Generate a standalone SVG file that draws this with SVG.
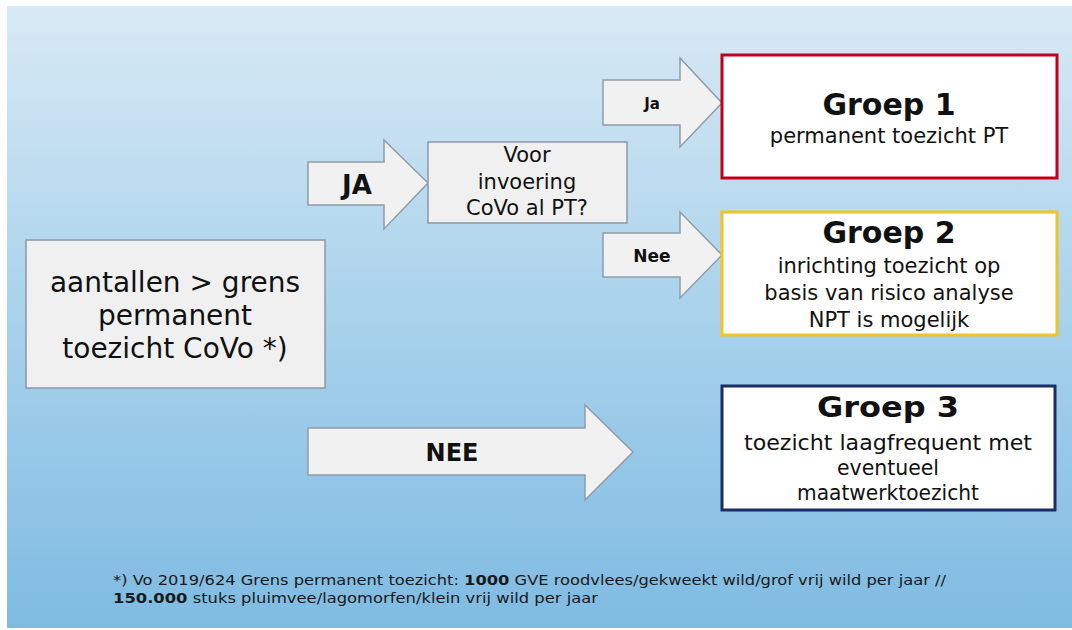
<svg xmlns="http://www.w3.org/2000/svg" width="1072" height="630" viewBox="0 0 1072 630">
<defs>
<linearGradient id="bg" x1="0" y1="0" x2="0" y2="1">
<stop offset="0" stop-color="#d8e9f4"/>
<stop offset="0.45" stop-color="#add4ec"/>
<stop offset="1" stop-color="#7fbbe2"/>
</linearGradient>
<style>
.arrow{fill:#f1f1f1;stroke:#8f9cab;stroke-width:1.5}
.gbox{fill:#f0f0f0;stroke:#8a98a8;stroke-width:1.5}
.t{font-family:"DejaVu Sans",Verdana,sans-serif;fill:#111;text-anchor:middle}
.b{font-weight:bold}
.g{fill:#ffffff;stroke-width:3}
.foot{font-family:"DejaVu Sans",Verdana,sans-serif;fill:#1a1a1a;font-size:14px}
</style>
</defs>
<rect x="0" y="0" width="1072" height="630" fill="#ffffff"/>
<rect x="7" y="6" width="1065" height="622" fill="url(#bg)"/>

<g id="connectors">
<path id="arrow-ja" class="arrow" d="M308,162 H384 V140 L428,183 L384,229 V205 H308 Z"/>
<path id="arrow-ja-small" class="arrow" d="M603,80 H680 V58 L722,103 L680,147 V125 H603 Z"/>
<path id="arrow-nee-small" class="arrow" d="M603,233 H680 V212 L722,255 L680,298 V277 H603 Z"/>
<path id="arrow-nee" class="arrow" d="M308,428 H585 V405 L633,452 L585,500 V475 H308 Z"/>
<text class="t b" x="357" y="194" font-size="26">JA</text>
<text class="t b" x="652" y="109" font-size="15">Ja</text>
<text class="t b" x="652" y="262" font-size="17">Nee</text>
<text class="t b" x="452" y="461" font-size="24">NEE</text>
</g>

<g id="node-start">
<rect class="gbox" x="26" y="240" width="299" height="148"/>
<text class="t" x="175" y="292" font-size="28">aantallen &gt; grens</text>
<text class="t" x="175" y="325" font-size="28">permanent</text>
<text class="t" x="175" y="358" font-size="28">toezicht CoVo *)</text>
</g>

<g id="node-voor">
<rect class="gbox" x="428" y="142" width="199" height="81"/>
<text class="t" x="527" y="162" font-size="21">Voor</text>
<text class="t" x="527" y="189" font-size="21">invoering</text>
<text class="t" x="527" y="215" font-size="21">CoVo al PT?</text>
</g>

<g id="node-groep1">
<rect class="g" x="722" y="55" width="335" height="123" stroke="#c20019"/>
<text class="t b" x="889" y="115" font-size="30">Groep 1</text>
<text class="t" x="889" y="143" font-size="21">permanent toezicht PT</text>
</g>

<g id="node-groep2">
<rect class="g" x="722" y="212" width="335" height="123" stroke="#f0c424"/>
<text class="t b" x="889" y="243" font-size="30">Groep 2</text>
<text class="t" x="889" y="273" font-size="21">inrichting toezicht op</text>
<text class="t" x="889" y="300" font-size="21">basis van risico analyse</text>
<text class="t" x="889" y="327" font-size="21">NPT is mogelijk</text>
</g>

<g id="node-groep3">
<rect class="g" x="722" y="386" width="333" height="124" stroke="#1b2d66"/>
<text class="t b" x="888" y="417" font-size="28" textLength="142" lengthAdjust="spacingAndGlyphs">Groep 3</text>
<text class="t" x="888" y="450" font-size="21" textLength="288" lengthAdjust="spacingAndGlyphs">toezicht laagfrequent met</text>
<text class="t" x="888" y="475" font-size="21" textLength="102" lengthAdjust="spacingAndGlyphs">eventueel</text>
<text class="t" x="888" y="500" font-size="21" textLength="182" lengthAdjust="spacingAndGlyphs">maatwerktoezicht</text>
</g>

<g id="footnote">
<text class="foot" x="113" y="585" textLength="833" lengthAdjust="spacingAndGlyphs">*) Vo 2019/624 Grens permanent toezicht: <tspan font-weight="bold">1000</tspan> GVE roodvlees/gekweekt wild/grof vrij wild per jaar //</text>
<text class="foot" x="113" y="603" textLength="485" lengthAdjust="spacingAndGlyphs"><tspan font-weight="bold">150.000</tspan> stuks pluimvee/lagomorfen/klein vrij wild per jaar</text>
</g>
</svg>
